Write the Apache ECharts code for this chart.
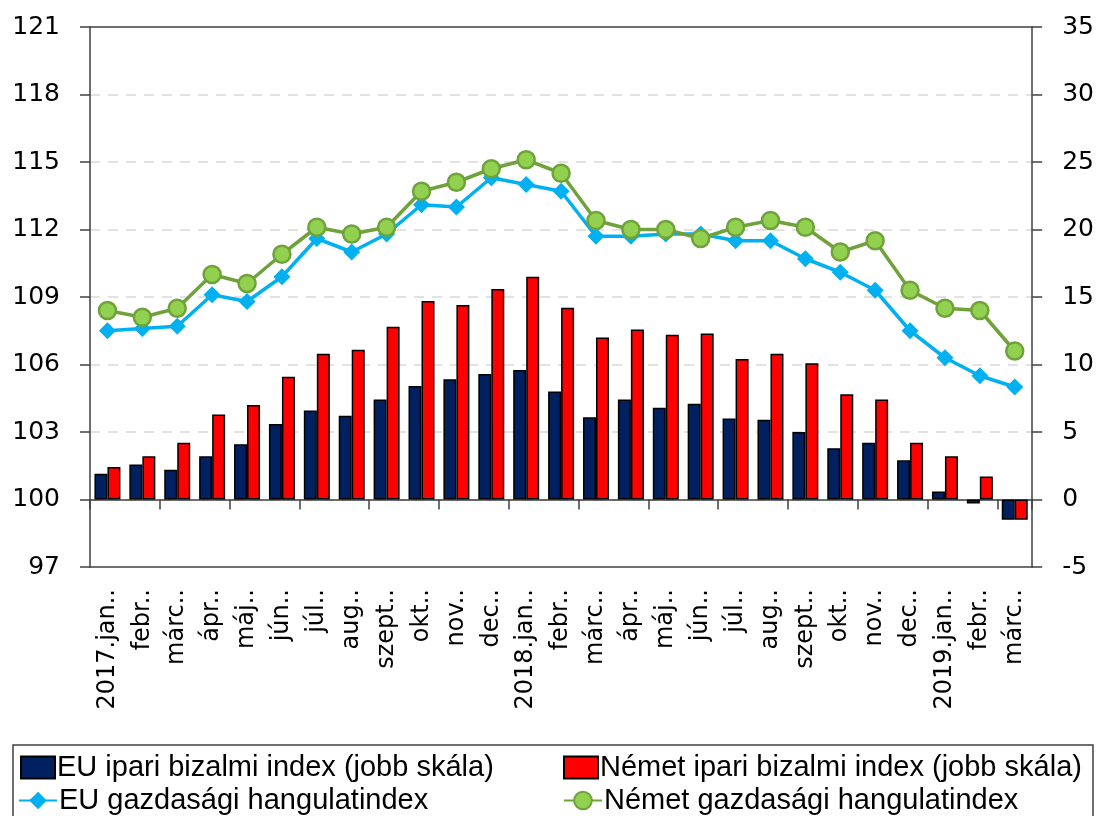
<!DOCTYPE html>
<html>
<head>
<meta charset="utf-8">
<script src="https://cdn.jsdelivr.net/npm/echarts@6/dist/echarts.min.js"></script>
<style>
    html, body { margin: 0; padding: 0; background: #fff; }
    #chart { width: 1097px; height: 816px; }
</style>
</head>
<body>
<div id="chart"></div>
<script>
    // kategóriák (hónapok)
    var months = ['2017.jan..', 'febr..', 'márc..', 'ápr..', 'máj..', 'jún..', 'júl..', 'aug..', 'szept..', 'okt..', 'nov..', 'dec..',
        '2018.jan..', 'febr..', 'márc..', 'ápr..', 'máj..', 'jún..', 'júl..', 'aug..', 'szept..', 'okt..', 'nov..', 'dec..',
        '2019.jan..', 'febr..', 'márc..']

    // jobb skála – oszlopok
    var euIpari = [1.9, 2.6, 2.2, 3.2, 4.1, 5.6, 6.6, 6.2, 7.4, 8.4, 8.9, 9.3, 9.6, 8.0, 6.1, 7.4, 6.8, 7.1, 6.0, 5.9, 5.0, 3.8, 4.2, 2.9, 0.6, -0.3, -1.5]
    var nemetIpari = [2.4, 3.2, 4.2, 6.3, 7.0, 9.1, 10.8, 11.1, 12.8, 14.7, 14.4, 15.6, 16.5, 14.2, 12.0, 12.6, 12.2, 12.3, 10.4, 10.8, 10.1, 7.8, 7.4, 4.2, 3.2, 1.7, -1.5]

    // bal skála – vonalak
    var euGazd = [107.5, 107.6, 107.7, 109.1, 108.8, 109.9, 111.6, 111.0, 111.8, 113.1, 113.0, 114.3, 114.0, 113.7, 111.7, 111.7, 111.8, 111.8, 111.5, 111.5, 110.7, 110.1, 109.3, 107.5, 106.3, 105.5, 105.0]
    var nemetGazd = [108.4, 108.1, 108.5, 110.0, 109.6, 110.9, 112.1, 111.8, 112.1, 113.7, 114.1, 114.7, 115.1, 114.5, 112.4, 112.0, 112.0, 111.6, 112.1, 112.4, 112.1, 111.0, 111.5, 109.3, 108.5, 108.4, 106.6]

    var names = ['EU ipari bizalmi index (jobb skála)', 'Német ipari bizalmi index (jobb skála)',
        'EU gazdasági hangulatindex', 'Német gazdasági hangulatindex']

    var axisFont = 'DejaVu Sans'
    var legendFont = 'Liberation Sans'
    var dark = '#404040'

    var chart = echarts.init(document.getElementById('chart'))

    function legendAt(name, left, top, w, h, icon) {
        return {
            data: [{ name: name, icon: icon }],
            left: left,
            top: top,
            padding: 0,
            itemWidth: w,
            itemHeight: h,
            itemGap: 4,
            textStyle: { fontFamily: legendFont, fontSize: 29, color: '#000', padding: [0, 0, 0, -3] }
        }
    }

    chart.setOption({
        animation: false,
        grid: { left: 90, right: 62, top: 27, bottom: 249 },
        legend: [
            legendAt(names[0], 20, 753, 34, 22, 'rect'),
            legendAt(names[1], 563, 753, 34, 22, 'rect'),
            legendAt(names[2], 18, 786, 38, 22),
            legendAt(names[3], 563, 786, 38, 22)
        ],
        graphic: [{
            type: 'rect',
            shape: { x: 13, y: 745, width: 1080, height: 90 },
            style: { fill: 'none', stroke: dark, lineWidth: 1.5 }
        }],
        xAxis: [
            {
                // tengely a 0 / 100 szinten, lefelé mutató osztásokkal
                type: 'category',
                data: months,
                axisLine: { onZero: true, onZeroAxisIndex: 1, lineStyle: { color: dark, width: 1.5 } },
                axisTick: { show: true, length: 10, alignWithLabel: false, lineStyle: { color: dark, width: 1.5 } },
                axisLabel: { show: false }
            },
            {
                type: 'category',
                data: months,
                position: 'bottom',
                axisLine: { onZero: false, lineStyle: { color: dark, width: 1.5 } },
                axisTick: { show: false },
                axisLabel: {
                    interval: 0,
                    rotate: 90,
                    margin: 22,
                    fontFamily: axisFont,
                    fontSize: 24,
                    color: '#000'
                }
            },
            {
                type: 'category',
                data: months,
                position: 'top',
                axisLine: { onZero: false, lineStyle: { color: dark, width: 1.5 } },
                axisTick: { show: false },
                axisLabel: { show: false }
            }
        ],
        yAxis: [
            {
                type: 'value',
                min: 97,
                max: 121,
                interval: 3,
                axisLine: { show: true, lineStyle: { color: dark, width: 1.5 } },
                axisTick: { show: true, length: 10, lineStyle: { color: dark, width: 1.5 } },
                axisLabel: { margin: 30, fontFamily: axisFont, fontSize: 25, color: '#000' },
                splitLine: {
                    show: true,
                    showMinLine: false,
                    showMaxLine: false,
                    lineStyle: { color: '#d9d9d9', type: [10, 8], width: 1.5 }
                }
            },
            {
                type: 'value',
                min: -5,
                max: 35,
                interval: 5,
                position: 'right',
                axisLine: { show: true, lineStyle: { color: dark, width: 1.5 } },
                axisTick: { show: true, length: 10, lineStyle: { color: dark, width: 1.5 } },
                axisLabel: { margin: 30, fontFamily: axisFont, fontSize: 25, color: '#000' },
                splitLine: { show: false }
            }
        ],
        series: [
            {
                name: names[0],
                type: 'bar',
                yAxisIndex: 1,
                data: euIpari,
                barWidth: 13,
                barGap: '0%',
                itemStyle: { color: '#002060', borderColor: '#000', borderWidth: 1.5 }
            },
            {
                name: names[1],
                type: 'bar',
                yAxisIndex: 1,
                data: nemetIpari,
                barWidth: 13,
                itemStyle: { color: '#ff0000', borderColor: '#000', borderWidth: 1.5 }
            },
            {
                name: names[2],
                type: 'line',
                yAxisIndex: 0,
                data: euGazd,
                symbol: 'diamond',
                symbolSize: 17,
                z: 3,
                lineStyle: { color: '#00b0f0', width: 3.5 },
                itemStyle: { color: '#00b0f0', borderColor: '#00b0f0', borderWidth: 0 }
            },
            {
                name: names[3],
                type: 'line',
                yAxisIndex: 0,
                data: nemetGazd,
                symbol: 'circle',
                symbolSize: 17,
                z: 4,
                lineStyle: { color: '#6fa23a', width: 3.5 },
                itemStyle: { color: '#92d050', borderColor: '#6fa23a', borderWidth: 2.5 }
            }
        ]
    })
</script>
</body>
</html>
